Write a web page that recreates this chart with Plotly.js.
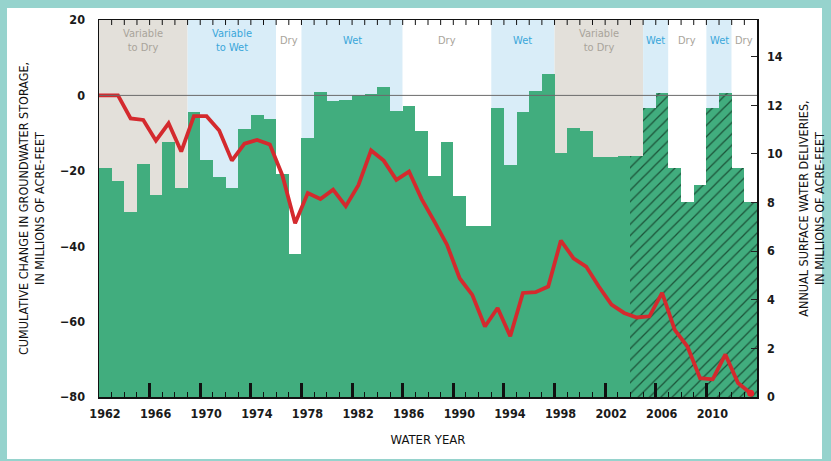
<!DOCTYPE html>
<html>
<head>
<meta charset="utf-8">
<script src="https://cdn.plot.ly/plotly-3.0.1.min.js"></script>
<style>
  html, body { margin:0; padding:0; width:831px; height:461px; overflow:hidden; background:#96d3cd; }
  #frame { position:absolute; left:7px; top:8px; width:815px; height:451px; background:#ffffff; }
  #chart { position:absolute; left:0; top:0; width:831px; height:461px; }
</style>
</head>
<body>
<div id="frame"></div>
<div id="chart"></div>
<script>
// ---- data ----
const years = [1962,1963,1964,1965,1966,1967,1968,1969,1970,1971,1972,1973,1974,1975,1976,1977,1978,1979,1980,1981,1982,1983,1984,1985,1986,1987,1988,1989,1990,1991,1992,1993,1994,1995,1996,1997,1998,1999,2000,2001,2002,2003,2004,2005,2006,2007,2008,2009,2010,2011,2012,2013];
// annual surface water deliveries, millions of acre-feet (right axis)
const deliveries = [9.4,8.9,7.6,9.6,8.3,10.5,8.6,11.7,9.75,9.05,8.6,11.0,11.6,11.45,9.15,5.9,10.65,12.55,12.15,12.2,12.4,12.45,12.75,11.75,11.95,10.95,9.1,10.5,8.25,7.05,7.05,11.9,9.55,11.7,12.6,13.3,10.05,11.05,10.95,9.85,9.85,9.9,9.9,11.9,12.5,9.4,8.0,8.7,11.9,12.5,9.4,8.0];
// cumulative change in groundwater storage, millions of acre-feet (left axis)
const cumulative = [0,0,-6.1,-6.5,-12.0,-7.4,-14.9,-5.5,-5.5,-9.3,-17.3,-12.8,-11.8,-13.0,-21.3,-33.9,-25.9,-27.5,-25.0,-29.4,-23.8,-14.6,-17.3,-22.4,-20.2,-27.5,-33.4,-39.6,-48.5,-52.9,-61.3,-56.4,-63.9,-52.4,-52.2,-50.7,-38.5,-43.2,-45.4,-50.7,-55.5,-57.7,-58.9,-58.6,-52.4,-62.2,-66.6,-75.0,-75.3,-68.7,-76.3,-79.0];
const startYear = 1962, startValue = 0;
const hatchFrom = 2004;
// climate periods
const bandStart = [1962,1969,1976,1978,1986,1993,1998,2005,2007,2010,2012];
const bandEnd   = [1969,1976,1978,1986,1993,1998,2005,2007,2010,2012,2014];
const bandLabel = ['Variable<br>to Dry','Variable<br>to Wet','Dry','Wet','Dry','Wet','Variable<br>to Dry','Wet','Dry','Wet','Dry'];
const bandType  = ['vdry','vwet','dry','wet','dry','wet','vdry','wet','dry','wet','dry'];
// axis ticks
const xTickVals = [1962,1966,1970,1974,1978,1982,1986,1990,1994,1998,2002,2006,2010];
const xTickText = ['1962','1966','1970','1974','1978','1982','1986','1990','1994','1998','2002','2006','2010'];
const leftTicks = [-80,-60,-40,-20,0,20];
const rightTicks = [0,2,4,6,8,10,12,14];

// ---- styles ----
const FONT = 'DejaVu Sans Condensed, Liberation Sans Narrow, DejaVu Sans, sans-serif';
const bandFill = {vdry:'#e3e0da', vwet:'#d9edf8', dry:'#ffffff', wet:'#d9edf8'};
const bandText = {vdry:'#a9a49b', vwet:'#39a7da', dry:'#a9a49b', wet:'#39a7da'};
const green = '#41ad7e';

const mid = years.map(y => y + 0.5);

const bars = {
  type:'bar', x: mid, y: deliveries, width: years.map(()=>1),
  xaxis:'x', yaxis:'y',
  marker:{ color: green, line:{width:0},
    pattern:{ shape: years.map(y => y >= hatchFrom ? '/' : ''), fillmode:'replace',
              bgcolor: green, fgcolor:'#1c5439', fgopacity:1, size:8, solidity:0.16 } },
  hoverinfo:'skip', showlegend:false
};
const line = {
  type:'scatter', mode:'lines', x:[startYear].concat(mid), y:[startValue].concat(cumulative),
  xaxis:'x', yaxis:'y2',
  line:{ color:'#d42a2e', width:3.8, shape:'linear' },
  hoverinfo:'skip', showlegend:false
};
const endDot = {
  type:'scatter', mode:'markers', x:[mid[mid.length-1]], y:[cumulative[cumulative.length-1]],
  xaxis:'x', yaxis:'y2', marker:{color:'#e3262c', size:7}, hoverinfo:'skip', showlegend:false
};

const shapes = bandStart.map((s,i) => ({
  type:'rect', xref:'x', yref:'paper', x0:s, x1:bandEnd[i], y0:0, y1:1,
  fillcolor: bandFill[bandType[i]], line:{width:0}, layer:'below'
}));
shapes.push({ type:'line', xref:'paper', yref:'y2', x0:0, x1:1, y0:0, y1:0, line:{color:'#6b6b6b', width:1}, layer:'above' });
// short year ticks hanging from the top border (x through the data scale, length in pixels)
years.slice(1).forEach(y => shapes.push({
  type:'line', xref:'x', yref:'paper', ysizemode:'pixel', yanchor:1,
  x0:y, x1:y, y0:0, y1:-5, line:{color:'#111', width:1}, layer:'above'
}));

const annotations = bandLabel.map((t,i) => ({
  xref:'x', yref:'paper', x:(bandStart[i]+bandEnd[i])/2, y:0.945, yanchor:'middle', xanchor:'center',
  text:t, showarrow:false, font:{family:FONT, size:11, color:bandText[bandType[i]]}
}));

const layout = {
  width:831, height:461,
  margin:{l:99, r:74, t:20, b:64, pad:0},
  paper_bgcolor:'rgba(0,0,0,0)', plot_bgcolor:'#ffffff',
  bargap:0, showlegend:false,
  font:{family:FONT, color:'#1a1a1a'},
  xaxis:{
    range:[1962,2014], showgrid:false, zeroline:false,
    showline:true, linecolor:'#111', linewidth:1.5, mirror:true,
    tickmode:'array', tickvals:xTickVals, ticktext:xTickText,
    ticks:'inside', ticklen:14, tickwidth:3, tickcolor:'#111',
    ticklabelshift:6, ticklabelstandoff:4,
    tickfont:{family:FONT, size:12.5, color:'#1a1a1a', weight:'bold'},
    minor:{dtick:1, tick0:1962, ticks:'inside', ticklen:5, tickwidth:1, tickcolor:'#111', showgrid:false},
    title:{text:'WATER YEAR', standoff:15, font:{family:FONT, size:13, color:'#111'}}
  },
  yaxis:{
    side:'right', range:[0,15.5], showgrid:false, zeroline:false,
    showline:true, linecolor:'#111', linewidth:1.5,
    tickmode:'array', tickvals:rightTicks, ticks:'inside', ticklen:6, tickwidth:1, tickcolor:'#222',
    ticklabelstandoff:6,
    tickfont:{family:FONT, size:12.5, color:'#1a1a1a', weight:'bold'},
    title:{text:'ANNUAL SURFACE WATER DELIVERIES,<br>IN MILLIONS OF ACRE-FEET', standoff:17, font:{family:FONT, size:12.5, color:'#111'}}
  },
  yaxis2:{
    overlaying:'y', side:'left', range:[-80,20], showgrid:false, zeroline:false,
    showline:true, linecolor:'#111', linewidth:1.5,
    tickmode:'array', tickvals:leftTicks, ticks:'',
    ticklabelstandoff:10,
    tickfont:{family:FONT, size:12.5, color:'#1a1a1a', weight:'bold'},
    title:{text:'CUMULATIVE CHANGE IN GROUNDWATER STORAGE,<br>IN MILLIONS OF ACRE-FEET', standoff:12, font:{family:FONT, size:12.5, color:'#111'}}
  },
  shapes: shapes,
  annotations: annotations
};

Plotly.newPlot('chart', [bars, line, endDot], layout, {staticPlot:true, displayModeBar:false});
</script>
</body>
</html>
